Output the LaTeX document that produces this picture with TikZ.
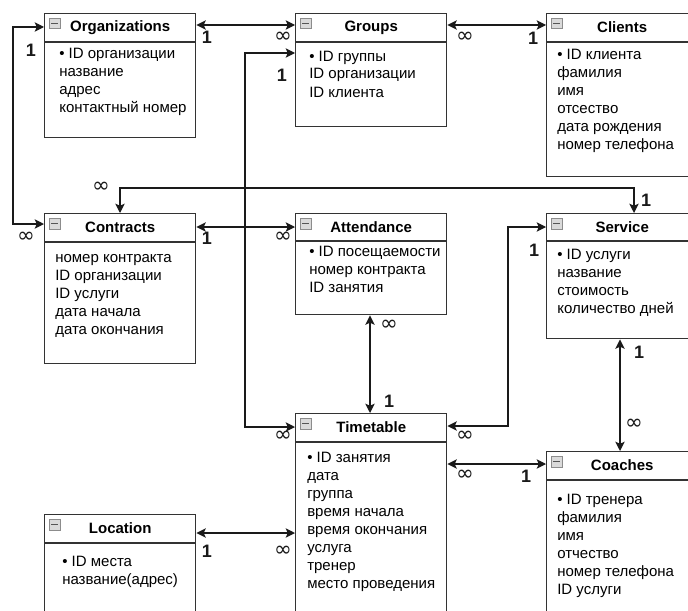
\documentclass[tikz,border=0pt]{standalone}
\usepackage{fontspec}
\setmainfont{Liberation Sans}
\newfontfamily\symfont{DejaVu Sans}
\usetikzlibrary{arrows.meta,calc}
\definecolor{boxc}{HTML}{333333}
\definecolor{linec}{HTML}{1A1A1A}
\definecolor{icb}{HTML}{8C8C8C}
\definecolor{icf}{HTML}{DADADA}
\definecolor{icm}{HTML}{555555}
\tikzset{
  tbl/.style={draw=boxc, line width=1.1pt, rectangle, inner sep=0pt, fill=white},
  boxline/.style={draw=boxc, line width=1.1pt},
  ttl/.style={font=\fontsize{11.25}{13.5}\selectfont\bfseries, inner sep=0pt},
  fld/.style={font=\fontsize{11.25}{13.5}\selectfont, inner sep=0pt, anchor=base west},
  icn/.style={draw=icb, fill=icf, line width=0.5pt, minimum size=8pt, inner sep=0pt, rectangle,
    path picture={\draw[icm, line width=1pt] ([xshift=-2.3pt]path picture bounding box.center) -- ([xshift=2.3pt]path picture bounding box.center);}},
  rel/.style={draw=linec, line width=1pt, {Stealth[length=7pt,width=7pt,inset=1.6pt]}-{Stealth[length=7pt,width=7pt,inset=1.6pt]}},
  card/.style={font=\symfont\fontsize{16}{18}\selectfont, inner sep=0pt, text=linec},
  cardb/.style={font=\fontsize{13.5}{16}\selectfont\bfseries, inner sep=0pt, text=linec},
}
% #1 name, #2 x, #3 y, #4 height, #5 header height, #6 title, #7 body x, #8 first baseline y, #9 lines
\newcommand\ertable[9]{%
  \node[tbl, anchor=north west, minimum width=151*0.75pt, minimum height=#4*0.75pt] (#1) at (#2,#3) {};
  \draw[boxline] ($(#1.north west)+(0,#5)$) -- ($(#1.north east)+(0,#5)$);
  \node[ttl] (#1-title) at ($(#1.north)+(0,#5/2)$) {#6};
  \node[icn] (#1-icon) at ($(#1.north west)+(10.5,10.5)$) {};
  \foreach \txt [count=\k] in {#9} {\node[fld] (#1-f\k) at ($(#7,#8)+(0,{18*(\k-1)})$) {\txt};}
}
\begin{document}
\begin{tikzpicture}[x=0.75pt,y=-0.75pt]
\useasboundingbox (0,0) rectangle (688,610);
\clip (0,0) rectangle (688,610);
\fill[white] (0,0) rectangle (688,610);

\ertable{org}{44}{13}{124}{29}{Organizations}{59}{58.5}{• ID организации,название,адрес,контактный номер}
\ertable{groups}{295}{13}{113}{29}{Groups}{309}{61}{• ID группы,ID организации,ID клиента}
\ertable{clients}{546}{13}{163}{29}{Clients}{557}{59.5}{• ID клиента,фамилия,имя,отсество,дата рождения,номер телефона}
\ertable{contracts}{44}{213}{150}{29}{Contracts}{55}{262.5}{номер контракта,ID организации,ID услуги,дата начала,дата окончания}
\ertable{attendance}{295}{213}{101}{28}{Attendance}{309}{256.5}{• ID посещаемости,номер контракта,ID занятия}
\ertable{service}{546}{213}{125}{28}{Service}{557}{259.5}{• ID услуги,название,стоимость,количество дней}
\ertable{timetable}{295}{413}{220}{29}{Timetable}{307}{462.5}{• ID занятия,дата,группа,время начала,время окончания,услуга,тренер,место проведения}
\ertable{coaches}{546}{451}{180}{29}{Coaches}{557}{504.5}{• ID тренера,фамилия,имя,отчество,номер телефона,ID услуги}
\ertable{location}{44}{514}{120}{29}{Location}{62}{566.5}{• ID места,название(адрес)}

% connectors
\draw[rel] ($(org.north east)+(0,12)$) -- ($(groups.north west)+(0,12)$);
\draw[rel] ($(groups.north east)+(0,12)$) -- ($(clients.north west)+(0,12)$);
\draw[rel] ($(org.north west)+(0,14)$) -- ++(-31,0) |- ($(contracts.north west)+(0,11)$);
\draw[rel] ($(groups.north west)+(0,40)$) -- ++(-50,0) |- ($(timetable.north west)+(0,14)$);
\draw[rel] ($(contracts.north west)+(76,0)$) -- ++(0,-25) -| ($(service.north west)+(88,0)$);
\draw[rel] ($(contracts.north east)+(0,14)$) -- ($(attendance.north west)+(0,14)$);
\draw[rel] ($(attendance.south west)+(75,0)$) -- ($(timetable.north west)+(75,0)$);
\draw[rel] ($(service.north west)+(0,14)$) -- ++(-38,0) |- ($(timetable.north east)+(0,13)$);
\draw[rel] ($(service.south west)+(74,0)$) -- ($(coaches.north west)+(74,0)$);
\draw[rel] ($(timetable.north east)+(0,51)$) -- ($(coaches.north west)+(0,13)$);
\draw[rel] ($(location.north east)+(0,19)$) -- ($(timetable.north west)+(0,120)$);

% cardinalities
\node[cardb] (c1) at (207,37) {1};
\node[card] (c2) at (283,37) {∞};
\node[card] (c3) at (465,37) {∞};
\node[cardb] (c4) at (533,38) {1};
\node[cardb] (c5) at (31,50) {1};
\node[card] (c6) at (26,237) {∞};
\node[cardb] (c7) at (282,75) {1};
\node[card] (c8) at (283,436) {∞};
\node[card] (c9) at (101,187) {∞};
\node[cardb] (c10) at (646,200) {1};
\node[cardb] (c11) at (207,238) {1};
\node[card] (c12) at (283,237) {∞};
\node[card] (c13) at (389,325) {∞};
\node[cardb] (c14) at (389,401) {1};
\node[cardb] (c15) at (534,250) {1};
\node[card] (c16) at (465,436) {∞};
\node[cardb] (c17) at (639,352) {1};
\node[card] (c18) at (634,424) {∞};
\node[card] (c19) at (465,475) {∞};
\node[cardb] (c20) at (526,476) {1};
\node[cardb] (c21) at (207,551) {1};
\node[card] (c22) at (283,551) {∞};
\end{tikzpicture}
\end{document}
